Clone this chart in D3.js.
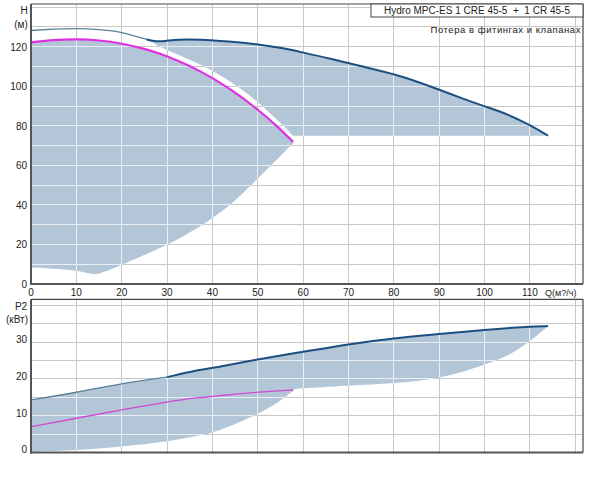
<!DOCTYPE html>
<html><head><meta charset="utf-8">
<script src="https://cdn.jsdelivr.net/npm/d3@7"></script>
<style>body{margin:0;background:#fff}svg{display:block}text{font-family:"Liberation Sans",Arial,sans-serif;fill:#222}</style>
</head><body>
<svg id="c" width="600" height="486"></svg>
<script>
// ---------- DATA ----------
const xTicks = [0,10,20,30,40,50,60,70,80,90,100,110];
const hTicks = [0,20,40,60,80,100,120];
const pTicks = [0,10,20,30];
const legendTitle = "Hydro MPC-ES 1 CRE 45-5  +  1 CR 45-5";
const legendSub = "Потера в фитингах и клапанах";
const xAxisLabel = "Q(м?/ч)";

// H curve, both pumps (dark blue)
const qHBoth = [0,5,10,15,19.6,22,25.5,27,29.5,32.1,37.3,43.5,49.8,55,59.3,66.6,72,81.3,88,96,100.3,105,110,114];
const hBoth  = [128.2,128.9,129.3,128.8,127.6,126,123.7,122.7,122.7,123.7,123.7,122.7,121.3,119.5,117.4,113.7,110.5,105.6,100,93,89.6,86,80.4,75];
// H curve, one pump (magenta)
const qHOne = [0,5,10,15,20,25,28.4,32.1,37.3,43.9,49.8,54.9,57.8];
const hOne  = [122.2,123.4,123.9,123.3,121.7,119,116.6,113.2,107.9,98.8,88.8,78.5,71.8];
// lower boundary of one-pump H envelope
const qHOneLow = [0,8,12,14.1,16,20,30,32.8,37.3,40.2,45,50,54.9,57.8];
const hOneLow  = [8.4,7.4,6,4.6,6,9.6,19.7,23.1,29.0,33.6,41.8,53.4,64.4,71.1];
// left boundary of two-pump H envelope
const qHBothLeft = [26,28.4,32,37.3,44.5,50,54.9,57.8];
const hBothLeft  = [123.4,119.8,116.3,111.3,102,92.3,81.5,75.3];
const hBothFloor = 75;

// P2 curve, both pumps (dark blue)
const qPBoth = [0,10,20,30,37.3,40,50,60,70,80,90,100,110,114];
const pBoth  = [14.3,16.3,18.8,20.5,22.6,22.9,25.4,27.4,29.5,31.1,32.2,33.4,34.3,34.4];
// P2 curve, one pump (magenta)
const qPOne = [0,10,20,30,37.3,40,50,57.8];
const pOne  = [7.0,9.3,11.6,13.8,15.0,15.2,16.5,17.0];
// lower boundary of P2 envelope
const qPLowA = [0,10,20,30,37.3,40,48.3,54.9,57.8];
const pLowA  = [0.2,0.5,1.6,2.9,4.7,5.2,9.3,13.8,16.8];
const qPLowB = [58,70,80,90,100,105.6,110,114];
const pLowB  = [17.3,18.2,18.8,20,23.8,26.5,30.2,34.4];

// ---------- LAYOUT ----------
const svg = d3.select("#c");
const X0 = 31, X1 = 583;
const x = d3.scaleLinear().domain([0,121.7]).range([X0,X1]);
const yH = d3.scaleLinear().domain([0,141.6]).range([284,4]);
const yP = d3.scaleLinear().domain([0,41.7]).range([452.4,299.3]);

const FILL = "#b3c6d8", GRID = "#c8c8c8", GRIDIN = "#e9eff5";
const BLUE = "#1c4f80", BLUE_L = "#5a8098", MAG = "#e030e0";
const CURVE = d3.curveBasis;

const zip = (qs, vs) => qs.map((q,i)=>[q,vs[i]]);
const rev = a => a.slice().reverse();

// polygon from list of segments; each segment smoothed, joined by straight lines
function polyPath(y, segs){
  const ln = d3.line().x(d=>x(d[0])).y(d=>y(d[1])).curve(CURVE);
  return segs.map((s,i)=>{ const p = ln(s); return i===0 ? p : "L"+p.slice(1); }).join("")+"Z";
}

function panel(y, hGridStep, vMax, polys, id){
  const g = svg.append("g");
  const t = y.range()[1], b = y.range()[0];
  const hVals = d3.range(0, vMax+0.001, hGridStep);
  const vVals = d3.range(10, 121, 10);
  function grid(sel, color){
    sel.selectAll(null).data(hVals).join("line")
      .attr("x1",X0).attr("x2",X1).attr("y1",d=>y(d)).attr("y2",d=>y(d))
      .attr("stroke",color).attr("stroke-width",1).attr("shape-rendering","crispEdges");
    sel.selectAll(null).data(vVals).join("line")
      .attr("x1",d=>x(d)).attr("x2",d=>x(d)).attr("y1",t).attr("y2",b)
      .attr("stroke",color).attr("stroke-width",1).attr("shape-rendering","crispEdges");
  }
  grid(g.append("g"), GRID);
  const clip = svg.append("clipPath").attr("id",id);
  polys.forEach(segs=>{
    const d = polyPath(y, segs);
    g.append("path").attr("d", d).attr("fill",FILL);
    clip.append("path").attr("d", d);
  });
  grid(g.append("g").attr("clip-path",`url(#${id})`), GRIDIN);
  return g;
}

function drawLine(g, y, pts, color, w){
  g.append("path").attr("d", d3.line().x(d=>x(d[0])).y(d=>y(d[1])).curve(CURVE)(pts))
    .attr("fill","none").attr("stroke",color).attr("stroke-width",w).attr("stroke-linejoin","round");
}

// ---------- TOP PANEL (H) ----------
const polyH1 = [zip(qHOne,hOne), rev(zip(qHOneLow,hOneLow))];
const polyH2 = [[[26,123.4]].concat(zip(qHBoth,hBoth).filter(d=>d[0]>26)),
  [[57.8,hBothFloor]], rev(zip(qHBothLeft,hBothLeft))];
const gTop = panel(yH, 10, 140, [polyH1, polyH2], "clipH");

const hb = zip(qHBoth,hBoth);
drawLine(gTop, yH, hb.filter(d=>d[0]<=27), BLUE_L, 1.3);
drawLine(gTop, yH, hb.filter(d=>d[0]>=25.5), BLUE, 2);
drawLine(gTop, yH, zip(qHOne,hOne), MAG, 2.2);

// ---------- BOTTOM PANEL (P2) ----------
const polyP = [zip(qPBoth,pBoth), rev(zip(qPLowB,pLowB)), rev(zip(qPLowA,pLowA))];
const gBot = panel(yP, 5, 40, [polyP], "clipP");
const pb = zip(qPBoth,pBoth);
drawLine(gBot, yP, pb.filter(d=>d[0]<=30), BLUE_L, 1.3);
drawLine(gBot, yP, pb.filter(d=>d[0]>=30), BLUE, 2);
drawLine(gBot, yP, zip(qPOne,pOne), "#d04ad0", 1.3);

// ---------- FRAMES ----------
function frame(y){
  const t = y.range()[1], b = y.range()[0];
  svg.append("line").attr("x1",X0).attr("x2",X1).attr("y1",t).attr("y2",t).attr("stroke","#444").attr("stroke-width",1.2);
  svg.append("line").attr("x1",X1).attr("x2",X1).attr("y1",t).attr("y2",b).attr("stroke","#444").attr("stroke-width",1.2);
  svg.append("line").attr("x1",X0).attr("x2",X0).attr("y1",t).attr("y2",b+1).attr("stroke","#555").attr("stroke-width",2);
  svg.append("line").attr("x1",X0-1).attr("x2",X1).attr("y1",b).attr("y2",b).attr("stroke","#555").attr("stroke-width",2);
}
frame(yH); frame(yP);

// ---------- LABELS ----------
const fs = "10px";
svg.append("g").selectAll("text").data(hTicks).join("text")
  .attr("x",27).attr("y",d=>yH(d)+4).attr("text-anchor","end").attr("font-size",fs).text(d=>d);
svg.append("g").selectAll("text").data(xTicks).join("text")
  .attr("x",d=>x(d)).attr("y",296).attr("text-anchor","middle").attr("font-size",fs).text(d=>d);
svg.append("text").attr("x",545).attr("y",296).attr("font-size","9px").text(xAxisLabel);
svg.append("text").attr("x",24).attr("y",14).attr("text-anchor","middle").attr("font-size",fs).text("H");
svg.append("text").attr("x",21).attr("y",28).attr("text-anchor","middle").attr("font-size",fs).text("(м)");
svg.append("g").selectAll("text").data(pTicks).join("text")
  .attr("x",27).attr("y",d=>yP(d)+1).attr("text-anchor","end").attr("font-size",fs).text(d=>d);
svg.append("text").attr("x",21).attr("y",310).attr("text-anchor","middle").attr("font-size",fs).text("P2");
svg.append("text").attr("x",17).attr("y",323).attr("text-anchor","middle").attr("font-size",fs).text("(кВт)");

// legend
svg.append("rect").attr("x",371).attr("y",4).attr("width",X1-371).attr("height",13)
  .attr("fill","#fff").attr("stroke","#444").attr("stroke-width",1);
svg.append("text").attr("x",477).attr("y",14).attr("text-anchor","middle").attr("font-size",fs)
  .style("white-space","pre").text(legendTitle);
svg.append("text").attr("x",581).attr("y",33).attr("text-anchor","end").attr("font-size","9.5px")
  .attr("letter-spacing","0.55px").text(legendSub);
</script>
</body></html>
